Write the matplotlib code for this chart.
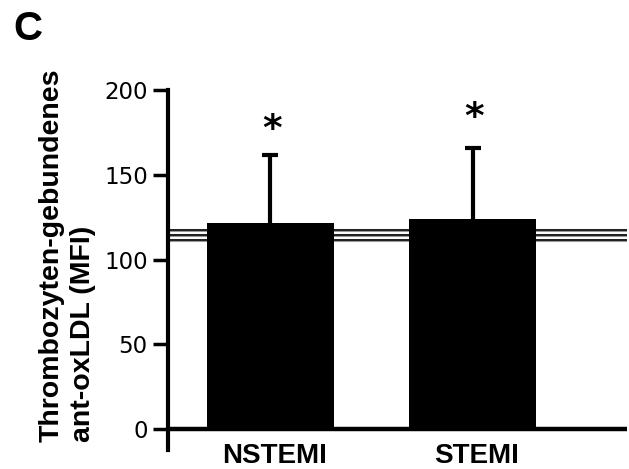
import matplotlib
matplotlib.use("Agg")
import matplotlib.pyplot as plt

categories = ["NSTEMI", "STEMI"]
means = [121.4, 123.7]
errors = [40.3, 41.9]
control_lines = [117.4, 114.7, 111.8]
sig_marks = ["*", "*"]
sig_heights = [176.4, 183.5]
yticks = [0, 50, 100, 150, 200]
ylabel_line1 = "Thrombozyten-gebundenes"
ylabel_line2 = "ant-oxLDL (MFI)"
panel_label = "C"

fig = plt.figure(figsize=(6.29, 4.69), dpi=100)
ax = fig.add_axes([0.267, 0.040, 0.730, 0.768])

xpos = list(range(len(categories)))
ax.set_xlim(-0.507, 1.765)
ax.set_ylim(-12.5, 200)

for v in control_lines:
    ax.axhline(v, color="#999999", lw=2.2, zorder=1)
    ax.axhline(v, color="black", lw=1.1, zorder=1.5)

ax.bar(xpos, means, width=0.63, color="black", zorder=2)
eb = ax.errorbar(xpos, means, yerr=[[0] * len(errors), errors], fmt="none",
                 ecolor="black", elinewidth=3, capsize=6, capthick=3, zorder=3)
eb[1][0].set_visible(False)
ax.axhline(0, color="black", lw=3.2, zorder=4)

for x, s, h in zip(xpos, sig_marks, sig_heights):
    ax.text(x + 0.01, h, s, ha="center", va="center", fontsize=27,
            fontweight="bold", family="DejaVu Sans")

for x, c in zip(xpos, categories):
    ax.text(x + 0.02, -19.8, c, ha="center", va="baseline", fontsize=20,
            fontweight="bold", family="Liberation Sans")

for sp in ["top", "right", "bottom"]:
    ax.spines[sp].set_visible(False)
ax.spines["left"].set_linewidth(3)
ax.spines["left"].set_bounds(-12.5, 200)
ax.set_xticks([])
ax.set_yticks(yticks)
ax.set_yticklabels([str(t) for t in yticks], fontsize=16.5, family="DejaVu Sans")
ax.tick_params(axis="y", length=11, width=2.5, pad=3.5)

fig.text(52 / 629, 1 - 442 / 469, ylabel_line1, rotation=90, ha="center",
         va="bottom", fontsize=20.5, fontweight="bold", family="Liberation Sans")
fig.text(83 / 629, 1 - 442 / 469, ylabel_line2, rotation=90, ha="center",
         va="bottom", fontsize=20.5, fontweight="bold", family="Liberation Sans")
fig.text(13 / 629, 1 - 40 / 469, panel_label, ha="left", va="baseline",
         fontsize=29, fontweight="bold", family="Liberation Sans")

fig.savefig("out.png", dpi=100)
